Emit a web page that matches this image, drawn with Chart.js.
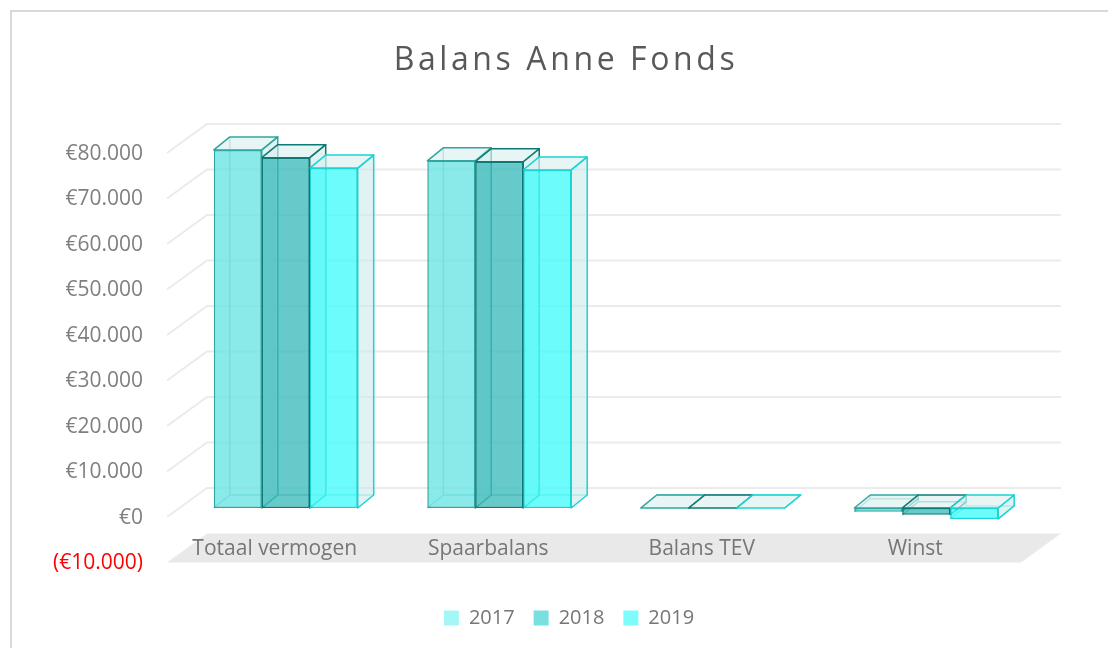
<!DOCTYPE html>
<html>
<head>
<meta charset="utf-8">
<title>Balans Anne Fonds</title>
<script src="https://cdn.jsdelivr.net/npm/chart.js@4/dist/chart.umd.min.js"></script>
<style>
  html, body { margin: 0; padding: 0; background: #fff; overflow: hidden; }
  #wrap { position: relative; width: 1108px; height: 648px; }
  #frame { position: absolute; left: 10px; top: 10px; width: 1200px; height: 700px;
           border: 2px solid #d9d9d9; box-sizing: border-box; }
  canvas { position: absolute; left: 0; top: 0; }
</style>
</head>
<body>
<div id="wrap">
  <div id="frame"></div>
  <canvas id="balansChart" width="1108" height="648"></canvas>
</div>
<script>
const categories = ["Totaal vermogen", "Spaarbalans", "Balans TEV", "Winst"];
const years = ["2017", "2018", "2019"];
const values2017 = [78700, 76300, 0, -800];
const values2018 = [77000, 76100, 0, -1500];
const values2019 = [74700, 74300, 0, -2400];
const yMin = -10000;
const yMax = 80000;
const yStep = 10000;

// look of each series: front fill, outline, legend swatch
const styles = [
  { fill: "rgba(109,228,228,0.8)", border: "#2fa6a1", edge: "rgba(47,166,161,0.55)", legend: "#a5f7f7" },
  { fill: "rgba(64,189,189,0.8)", border: "#0e7a76", edge: "rgba(14,122,118,0.55)", legend: "#79e0e0" },
  { fill: "rgba(71,251,251,0.8)", border: "#1ad3d3", edge: "rgba(26,211,211,0.55)", legend: "#7efcfc" },
];

const DEPTH = { dx: 16, dy: -13 };  // depth of a bar
const FRONT = { dx: -12, dy: 9 };   // front edge of floor / axis, relative to bar plane
const BACK = { dx: 28, dy: -20 };   // back wall, relative to bar plane

const fmt = n => String(n).replace(/\B(?=(\d{3})+(?!\d))/g, ".");

Chart.defaults.font.family = '"Open Sans", sans-serif';

function drawBox(ctx, el, st) {
  const { x, y, base, width } = el.getProps(["x", "y", "base", "width"], true);
  const l = x - width / 2, r = x + width / 2;
  const t = Math.min(y, base), b = Math.max(y, base);
  const { dx, dy } = DEPTH;
  ctx.lineWidth = 1.5;
  ctx.lineJoin = "round";
  // back edges, seen through the glass
  ctx.strokeStyle = st.edge;
  ctx.beginPath();
  ctx.moveTo(l, b); ctx.lineTo(l + dx, b + dy); ctx.lineTo(r + dx, b + dy);
  ctx.moveTo(l + dx, b + dy); ctx.lineTo(l + dx, t + dy);
  ctx.stroke();
  // right side
  ctx.fillStyle = "rgba(205,233,233,0.6)";
  ctx.strokeStyle = st.border;
  ctx.beginPath();
  ctx.moveTo(r, t); ctx.lineTo(r + dx, t + dy); ctx.lineTo(r + dx, b + dy); ctx.lineTo(r, b);
  ctx.closePath(); ctx.fill(); ctx.stroke();
  // top
  ctx.fillStyle = "rgba(220,240,240,0.65)";
  ctx.beginPath();
  ctx.moveTo(l, t); ctx.lineTo(l + dx, t + dy); ctx.lineTo(r + dx, t + dy); ctx.lineTo(r, t);
  ctx.closePath(); ctx.fill(); ctx.stroke();
}

const scenePlugin = {
  id: "scene",
  afterLayout(chart) {
    // centre the legend under the whole chart object, not the plot
    if (chart.legend) chart.legend.left = 105;
  },
  beforeDatasetsDraw(chart) {
    const { ctx, chartArea: a, scales: { x, y } } = chart;
    ctx.save();
    // floor
    const yf = y.getPixelForValue(yMin);
    ctx.fillStyle = "#e9e9e9";
    ctx.beginPath();
    ctx.moveTo(a.left + FRONT.dx, yf + FRONT.dy);
    ctx.lineTo(a.left + BACK.dx, yf + BACK.dy);
    ctx.lineTo(a.right + BACK.dx, yf + BACK.dy);
    ctx.lineTo(a.right + FRONT.dx, yf + FRONT.dy);
    ctx.closePath();
    ctx.fill();
    // gridlines: side wall + back wall
    ctx.strokeStyle = "#ebebeb";
    ctx.lineWidth = 2;
    y.ticks.forEach(t => {
      if (t.value <= yMin) return;
      const py = y.getPixelForValue(t.value);
      ctx.beginPath();
      ctx.moveTo(a.left + FRONT.dx, py + FRONT.dy);
      ctx.lineTo(a.left + BACK.dx, py + BACK.dy);
      ctx.lineTo(a.right + BACK.dx, py + BACK.dy);
      ctx.stroke();
    });
    // category labels lying on the floor
    ctx.font = '21px "Open Sans"';
    ctx.fillStyle = "#767676";
    ctx.textAlign = "center";
    ctx.textBaseline = "middle";
    categories.forEach((c, i) => {
      ctx.fillText(c, x.getPixelForValue(i) + FRONT.dx + 1, yf + (FRONT.dy + BACK.dy) / 2 + 1);
    });
    // depth faces of the bars
    categories.forEach((c, j) => {
      chart.data.datasets.forEach((ds, i) => {
        const el = chart.getDatasetMeta(i).data[j];
        if (el) drawBox(ctx, el, styles[i]);
      });
    });
    ctx.restore();
  },
  afterDraw(chart) {
    const { ctx } = chart;
    ctx.save();
    ctx.font = '32px "Open Sans"';
    ctx.letterSpacing = "3.6px";
    ctx.fillStyle = "#595959";
    ctx.textAlign = "center";
    ctx.textBaseline = "middle";
    ctx.fillText("Balans Anne Fonds", 566, 61);
    ctx.restore();
  }
};

new Chart(document.getElementById("balansChart"), {
  type: "bar",
  data: {
    labels: categories,
    datasets: [values2017, values2018, values2019].map((vals, i) => ({
      label: years[i],
      data: vals,
      backgroundColor: styles[i].fill,
      borderColor: styles[i].border,
      borderWidth: 1.5,
      borderSkipped: false,
      barPercentage: 1,
      categoryPercentage: 0.674,
    })),
  },
  options: {
    responsive: false,
    animation: false,
    layout: { padding: { top: 144, left: 0, right: 75, bottom: 10 } },
    scales: {
      x: {
        grid: { display: false },
        border: { display: false },
        ticks: { display: false },
        afterFit: s => { s.height = 35.5; },
      },
      y: {
        min: yMin,
        max: yMax,
        grid: { display: false },
        border: { display: false },
        afterFit: s => { s.width = 179; },
        ticks: {
          stepSize: yStep,
          padding: 28,
          labelOffset: 10,
          font: { size: 21 },
          color: ctx => (ctx.tick && ctx.tick.value < 0 ? "#ff0000" : "#7f7f7f"),
          callback: v => (v < 0 ? "(€" + fmt(-v) + ")" : "€" + fmt(v)),
        },
      },
    },
    plugins: {
      title: { display: false },
      tooltip: { enabled: false },
      legend: {
        position: "bottom",
        labels: {
          boxWidth: 15,
          boxHeight: 15,
          padding: 19,
          color: "#767676",
          font: { size: 20 },
          generateLabels: chart => chart.data.datasets.map((ds, i) => ({
            text: ds.label,
            fillStyle: styles[i].legend,
            strokeStyle: styles[i].legend,
            lineWidth: 0,
            datasetIndex: i,
            fontColor: "#767676",
          })),
        },
      },
    },
  },
  plugins: [scenePlugin],
});
</script>
</body>
</html>
